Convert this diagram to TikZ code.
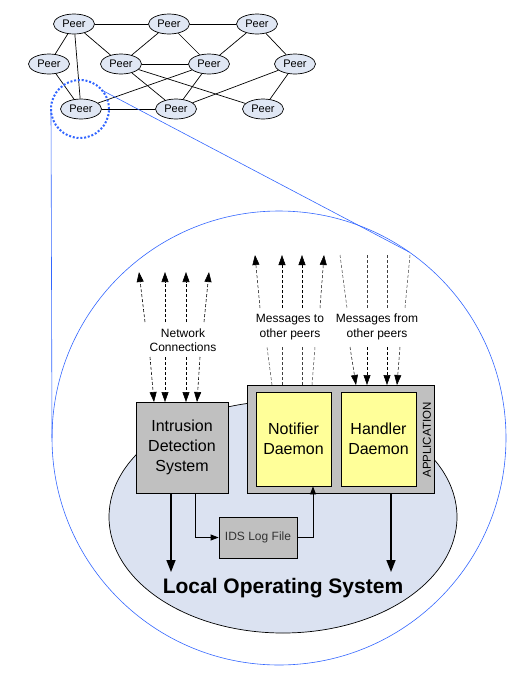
\documentclass[tikz,border=0pt]{standalone}
\usepackage{fontspec}
\setmainfont{Liberation Sans}
\usepackage{xcolor}
\usetikzlibrary{shapes.geometric,arrows.meta}
\definecolor{peerblue}{RGB}{224,231,244}
\definecolor{osblue}{RGB}{219,226,241}
\definecolor{boxgray}{RGB}{192,192,192}
\definecolor{daemonyellow}{RGB}{255,255,153}
\definecolor{zoomblue}{RGB}{51,102,255}

\begin{document}
\begin{tikzpicture}[x=1pt, y=-1pt,
	peer/.style={draw, ellipse, fill=peerblue, minimum width=41pt, minimum height=20pt, inner sep=0pt, line width=.7, font=\fontsize{11}{13}\selectfont},
	link/.style={line width=.7},
	box/.style={draw, fill=boxgray, line width=.8, inner sep=0pt, align=center},
	daemon/.style={draw, fill=daemonyellow, line width=.8, minimum width=75pt, minimum height=94pt, inner sep=0pt, align=center, font=\fontsize{16}{20}\selectfont},
	lbl/.style={align=center, font=\fontsize{12}{14.5}\selectfont},
	dasharrow/.style={densely dashed, line width=.6, -{Triangle[length=10pt,width=7pt]}},
	dashline/.style={densely dashed, line width=.5, black!75},
	bigarrow/.style={line width=1.6, -{Triangle[length=12pt,width=9pt]}},
	smallarrow/.style={line width=.8, -{Triangle[length=8pt,width=6pt]}},
	zoomline/.style={draw=zoomblue, line width=.6}]
	\useasboundingbox (0,0) rectangle (517,691);
	
	% the zoomed host and its operating system
	\node[circle, zoomline, minimum size=454pt, inner sep=0pt, outer sep=0pt] (host) at (279,438) {};
	\node[ellipse, draw, fill=osblue, line width=.7, minimum width=348pt, minimum height=232pt, inner sep=0pt] (os) at (283,517) {};
	
	% the peer network
	\foreach \name/\x/\y in {p1/74/24, p2/169/24, p3/257/24, p4/49/64, p5/121/64, p6/209/64, p7/295/64, p8/81/109, p9/176/109, p10/263/109} {
		\node[peer] (\name) at (\x,\y) {Peer};
	}
	\foreach \a/\b in {p1/p2, p2/p3, p1/p4, p1/p8, p1/p5, p2/p5, p2/p6, p3/p6, p3/p7, p4/p8, p5/p6, p5/p9, p5/p10, p6/p8, p6/p9, p7/p9, p7/p10, p8/p9} {
		\draw[link] (\a) -- (\b);
	}
	
	% zoom on one peer
	\node[circle, draw=zoomblue, line width=2, dash pattern=on 2pt off 1.8pt, minimum size=58pt, inner sep=0pt, outer sep=0pt] (zoom) at (80,109) {};
	\draw[zoomline] (zoom.west) -- (host.west);
	\draw[zoomline] (zoom.40) -- (host.55);
	
	% boxes
	\node[box, minimum width=92pt, minimum height=91pt, font=\fontsize{16}{20}\selectfont] (ids) at (182,447.5) {Intrusion\\Detection\\System};
	\node[box, minimum width=187pt, minimum height=108pt] (app) at (340.5,439) {};
	\node[daemon] (notif) at (293.5,439) {Notifier\\Daemon};
	\node[daemon] (handler) at (378.5,439) {Handler\\Daemon};
	\node[rotate=90, font=\fontsize{11.5}{13}\selectfont] (applbl) at (427,440) {APPLICATION};
	\node[box, minimum width=78pt, minimum height=41pt, font=\fontsize{12}{14}\selectfont, text=black!80] (log) at (258,537.5) {IDS Log File};
	\node[font=\fontsize{21}{25}\selectfont\bfseries] (los) at (283,588) {Local Operating System};
	
	% local arrows
	\coordinate (idsout) at (171,572);
	\coordinate (hout) at (391,572);
	\draw[bigarrow] (ids.south -| idsout) -- (idsout);
	\draw[bigarrow] (app.south -| hout) -- (hout);
	\draw[smallarrow] ([xshift=13pt]ids.south) |- (log.west);
	\draw[smallarrow] (log.east) -| ([xshift=19.5pt]notif.south);
	
	% labels
	\node[lbl] (netlbl) at (183,340) {Network\\Connections};
	\node[lbl] (tolbl) at (290,327) {Messages to\\other peers};
	\node[lbl] (fromlbl) at (377,327) {Messages from\\other peers};
	
	% network connections
	\foreach \i/\xa/\xb/\xc/\xd in {1/145/139/150/154, 2/165/165/165/165, 3/186/186/186/186, 4/204/209/200/197} {
		\coordinate (ncu\i) at (\xa,322);
		\coordinate (nct\i) at (\xb,272);
		\coordinate (ncd\i) at (\xc,357);
		\coordinate (nci\i) at (\xd,402);
		\draw[dasharrow] (ncu\i) -- (nct\i);
		\draw[dasharrow] (ncd\i) -- (nci\i);
	}
	
	% messages to other peers
	\foreach \i/\xa/\xb/\xc/\xd in {1/260/255/267/272, 2/282/282/282/282, 3/302/302/302/302, 4/320/324/315/312} {
		\coordinate (mtu\i) at (\xa,308);
		\coordinate (mtt\i) at (\xb,255);
		\coordinate (mtd\i) at (\xc,347);
		\coordinate (mtb\i) at (\xd,385);
		\draw[dasharrow, line width=.5] (mtu\i) -- (mtt\i);
		\draw[dashline] (mtb\i) -- (mtd\i);
	}
	
	% messages from other peers
	\foreach \i/\xa/\xb/\xc/\xd in {1/340/347/350/356, 2/367/367/367/367, 3/387/387/387/387, 4/410/405/400/397} {
		\coordinate (mft\i) at (\xa,255);
		\coordinate (mfu\i) at (\xb,308);
		\coordinate (mfd\i) at (\xc,347);
		\coordinate (mfb\i) at (\xd,385);
		\draw[dashline] (mft\i) -- (mfu\i);
		\draw[dasharrow, line width=.5] (mfd\i) -- (mfb\i);
	}
\end{tikzpicture}
\end{document}
